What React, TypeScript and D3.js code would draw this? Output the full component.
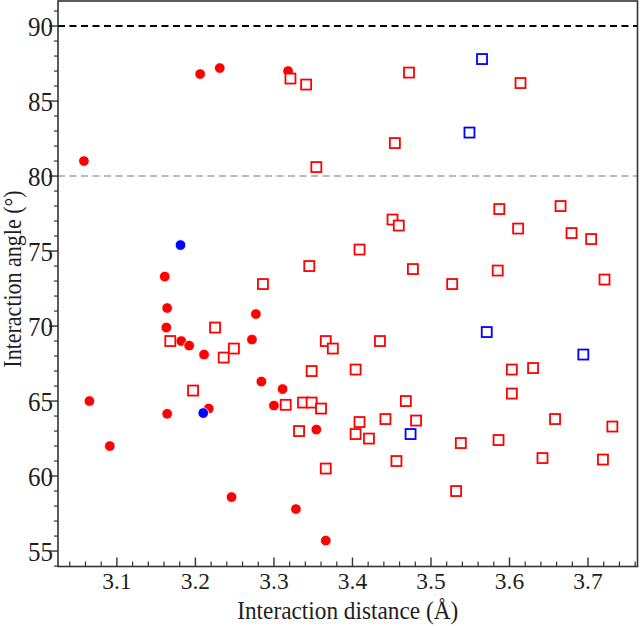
import * as d3 from "d3";

const WIDTH = 640;
const HEIGHT = 626;
const MARGIN = { top: 1, right: 2.5, bottom: 59.5, left: 58 };

// [distance (Å), angle (°)]
const redCircles: [number, number][] = [
  [3.058, 81.0], [3.206, 86.8], [3.231, 87.2], [3.318, 87.0],
  [3.161, 73.3], [3.164, 71.2], [3.277, 70.8], [3.163, 69.9],
  [3.182, 69.0], [3.192, 68.7], [3.211, 68.1], [3.272, 69.1],
  [3.284, 66.3], [3.311, 65.8], [3.300, 64.7], [3.217, 64.5],
  [3.164, 64.15], [3.065, 65.0], [3.091, 62.0], [3.246, 58.6],
  [3.328, 57.8], [3.354, 63.1], [3.366, 55.7],
];

const blueCircles: [number, number][] = [
  [3.181, 75.4], [3.210, 64.2],
];

const redSquares: [number, number][] = [
  [3.321, 86.5], [3.341, 86.1], [3.472, 86.9], [3.614, 86.2],
  [3.454, 82.2], [3.354, 80.6], [3.451, 77.1], [3.459, 76.7],
  [3.587, 77.8], [3.665, 78.0], [3.611, 76.5], [3.679, 76.2],
  [3.704, 75.8], [3.409, 75.1], [3.345, 74.0], [3.477, 73.8],
  [3.585, 73.7], [3.286, 72.8], [3.527, 72.8], [3.721, 73.1],
  [3.225, 69.9], [3.168, 69.0], [3.366, 69.0], [3.375, 68.5],
  [3.435, 69.0], [3.249, 68.5], [3.236, 67.9], [3.348, 67.0],
  [3.404, 67.1], [3.603, 67.1], [3.630, 67.2], [3.197, 65.7],
  [3.603, 65.5], [3.468, 65.0], [3.315, 64.75], [3.337, 64.9],
  [3.348, 64.9], [3.360, 64.5], [3.409, 63.6], [3.442, 63.8],
  [3.481, 63.7], [3.658, 63.8], [3.731, 63.3], [3.332, 63.0],
  [3.404, 62.8], [3.421, 62.5], [3.538, 62.2], [3.586, 62.4],
  [3.366, 60.5], [3.456, 61.0], [3.642, 61.2], [3.719, 61.1],
  [3.532, 59.0],
];

const blueSquares: [number, number][] = [
  [3.565, 87.8], [3.549, 82.9], [3.571, 69.6], [3.694, 68.1], [3.474, 62.8],
];

const xMajorTicks = [3.1, 3.2, 3.3, 3.4, 3.5, 3.6, 3.7];
const yMajorTicks = [55, 60, 65, 70, 75, 80, 85, 90];

const RED = "#ff0000";
const BLUE = "#0000ff";
const AXIS = "#333333";
const INK = "#1e1e1e";
const FONT = "'Liberation Serif', 'Times New Roman', serif";
const SQ = 10;

// text with its baseline at (x, y); glyphs can be stretched vertically
const Label = ({ x, y, anchor, size, stretch = 1, rotate = 0, children }: any) => (
  <g transform={`translate(${x},${y}) rotate(${rotate}) scale(1,${stretch})`}>
    <text textAnchor={anchor} fontSize={size} fill={INK}>
      {children}
    </text>
  </g>
);

export default function App() {
  const x = d3.scaleLinear().domain([3.025, 3.763]).range([MARGIN.left, WIDTH - MARGIN.right]);
  const y = d3.scaleLinear().domain([53.97, 91.67]).range([HEIGHT - MARGIN.bottom, MARGIN.top]);

  const left = MARGIN.left;
  const right = WIDTH - MARGIN.right;
  const top = MARGIN.top;
  const bottom = HEIGHT - MARGIN.bottom;

  const xMinor = d3.range(3.04, 3.765, 0.02).filter((v) => !xMajorTicks.some((m) => Math.abs(m - v) < 1e-6));
  const yMinor = d3.range(54, 92, 1).filter((v) => v % 5 !== 0);

  return (
    <svg
      width={WIDTH}
      height={HEIGHT}
      style={{ position: "absolute", left: 0, top: 0, background: "#fff" }}
      fontFamily={FONT}
    >
      {/* reference lines */}
      <line x1={left} x2={right} y1={y(90)} y2={y(90)} stroke="#000" strokeWidth={2} strokeDasharray="7,4.5" />
      <line x1={left} x2={right} y1={y(80)} y2={y(80)} stroke="#bbbbbb" strokeWidth={2} strokeDasharray="7,4.5" />

      {redCircles.map(([d, a], i) => (
        <circle key={"rc" + i} cx={x(d)} cy={y(a)} r={5.3} fill={RED} stroke="#fff" strokeWidth={0.8} />
      ))}
      {blueCircles.map(([d, a], i) => (
        <circle key={"bc" + i} cx={x(d)} cy={y(a)} r={5.3} fill={BLUE} stroke="#fff" strokeWidth={0.8} />
      ))}
      {redSquares.map(([d, a], i) => (
        <rect key={"rs" + i} x={x(d) - SQ / 2} y={y(a) - SQ / 2} width={SQ} height={SQ} fill="#fff" stroke={RED} strokeWidth={1.8} />
      ))}
      {blueSquares.map(([d, a], i) => (
        <rect key={"bs" + i} x={x(d) - SQ / 2} y={y(a) - SQ / 2} width={SQ} height={SQ} fill="#fff" stroke={BLUE} strokeWidth={1.8} />
      ))}

      {/* frame */}
      <rect x={left} y={top} width={right - left} height={bottom - top} fill="none" stroke={AXIS} strokeWidth={1.6} />

      {/* x ticks point inward */}
      {xMinor.map((v) => (
        <line key={"xm" + v} x1={x(v)} x2={x(v)} y1={bottom} y2={bottom - 5} stroke={AXIS} strokeWidth={1.2} />
      ))}
      {xMajorTicks.map((v) => (
        <g key={"xM" + v}>
          <line x1={x(v)} x2={x(v)} y1={bottom} y2={bottom - 9} stroke={AXIS} strokeWidth={1.4} />
          <Label x={x(v)} y={bottom + 22} anchor="middle" size={23.5}>
            {d3.format(".1f")(v)}
          </Label>
        </g>
      ))}

      {/* y ticks point outward */}
      {yMinor.map((v) => (
        <line key={"ym" + v} x1={left} x2={left - 4} y1={y(v)} y2={y(v)} stroke={AXIS} strokeWidth={1.2} />
      ))}
      {yMajorTicks.map((v) => (
        <g key={"yM" + v}>
          <line x1={left} x2={left - 9} y1={y(v)} y2={y(v)} stroke={AXIS} strokeWidth={1.4} />
          <Label x={left - 5} y={y(v) + 10.2} anchor="end" size={25} stretch={1.07}>
            {v}
          </Label>
        </g>
      ))}

      <Label x={(left + right) / 2} y={619} anchor="middle" size={23.3} stretch={1.12}>
        Interaction distance (Å)
      </Label>
      <Label x={21} y={279} anchor="middle" size={22} stretch={1.12} rotate={-90}>
        Interaction angle (°)
      </Label>
    </svg>
  );
}
